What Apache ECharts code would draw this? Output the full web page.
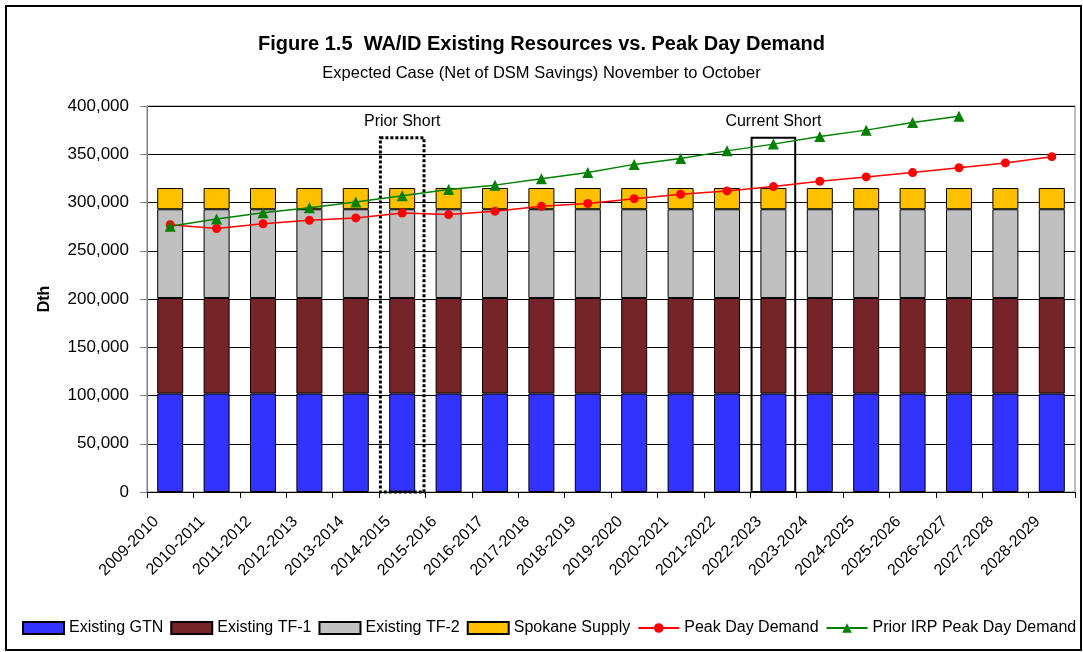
<!DOCTYPE html>
<html lang="en">
<head>
    <meta charset="UTF-8">
    <title>WA/ID Existing Resources vs. Peak Day Demand</title>
    <script src="https://cdn.jsdelivr.net/npm/echarts@6/dist/echarts.min.js"></script>
    <style>
        html, body {
            margin: 0;
            padding: 0;
            background: #fff;
        }
        #chart {
            width: 1083px;
            height: 652px;
        }
    </style>
</head>
<body>
<div id="chart"></div>
<script>
/*
 * data
 */
var years = ['2009-2010', '2010-2011', '2011-2012', '2012-2013', '2013-2014', '2014-2015', '2015-2016',
    '2016-2017', '2017-2018', '2018-2019', '2019-2020', '2020-2021', '2021-2022', '2022-2023',
    '2023-2024', '2024-2025', '2025-2026', '2026-2027', '2027-2028', '2028-2029'];
var existingGTN = [102000, 102000, 102000, 102000, 102000, 102000, 102000, 102000, 102000, 102000,
    102000, 102000, 102000, 102000, 102000, 102000, 102000, 102000, 102000, 102000];
var existingTF1 = [99000, 99000, 99000, 99000, 99000, 99000, 99000, 99000, 99000, 99000,
    99000, 99000, 99000, 99000, 99000, 99000, 99000, 99000, 99000, 99000];
var existingTF2 = [92000, 92000, 92000, 92000, 92000, 92000, 92000, 92000, 92000, 92000,
    92000, 92000, 92000, 92000, 92000, 92000, 92000, 92000, 92000, 92000];
var spokaneSupply = [22000, 22000, 22000, 22000, 22000, 22000, 22000, 22000, 22000, 22000,
    22000, 22000, 22000, 22000, 22000, 22000, 22000, 22000, 22000, 22000];
var peakDayDemand = [277000, 273000, 278000, 281500, 284000, 289000, 287500, 291000, 296000, 299000,
    304000, 308500, 312000, 316500, 322000, 326500, 331000, 336000, 341000, 347500];
var priorIrpDemand = [275500, 283000, 289500, 294500, 300500, 307000, 313500, 318000, 324500, 331000,
    339500, 345500, 353500, 360500, 368500, 375000, 383000, 389500, null, null];
var yTicks = [0, 50000, 100000, 150000, 200000, 250000, 300000, 350000, 400000];

// the two "short" boxes
var shortYears = ['2014-2015', '2022-2023'];
var shortTops = [367000, 367000];
var shortLabels = ['Prior Short', 'Current Short'];
var shortDashed = [true, false];

var font = 'Liberation Sans, Arial, sans-serif';

function fmt(v) {
    return v.toLocaleString('en-US');
}

function barSeries(name, data, color) {
    return {
        name: name,
        type: 'bar',
        stack: 'res',
        data: data,
        barWidth: 26,
        itemStyle: {color: color, borderColor: '#000', borderWidth: 1}
    };
}

function drawShort(params, api) {
    var i = params.dataIndex;
    var base = api.coord([api.value(0), 0]);
    var top = api.coord([api.value(0), api.value(1)]);
    var w = api.size([1, 0])[0] * 0.94;
    return {
        type: 'group',
        children: [{
            type: 'rect',
            shape: {x: base[0] - w / 2, y: top[1], width: w, height: base[1] - top[1]},
            style: {
                fill: null,
                stroke: '#000',
                lineWidth: shortDashed[i] ? 3 : 2,
                lineDash: shortDashed[i] ? [3, 2] : null
            }
        }, {
            type: 'text',
            x: base[0],
            y: top[1] - 16,
            style: {
                text: shortLabels[i],
                align: 'center',
                verticalAlign: 'middle',
                fontFamily: font,
                fontSize: 16,
                fill: '#000'
            }
        }]
    };
}

var myChart = echarts.init(document.getElementById('chart'));
var option = {
    backgroundColor: '#fff',
    animation: false,
    textStyle: {fontFamily: font},
    title: [{
        text: 'Figure 1.5  WA/ID Existing Resources vs. Peak Day Demand',
        left: 'center',
        top: 29,
        textStyle: {fontFamily: font, fontSize: 20, fontWeight: 'bold', color: '#000'}
    }, {
        text: 'Expected Case (Net of DSM Savings) November to October',
        left: 'center',
        top: 60,
        textStyle: {fontFamily: font, fontSize: 16.5, fontWeight: 'normal', color: '#000'}
    }],
    graphic: [{
        type: 'rect',
        shape: {x: 6, y: 6, width: 1075, height: 644},
        style: {fill: null, stroke: '#000', lineWidth: 2},
        silent: true
    }],
    legend: {
        left: 17,
        top: 615,
        itemWidth: 41,
        itemHeight: 12,
        itemGap: 7,
        textStyle: {fontFamily: font, fontSize: 16, color: '#000'},
        data: [
            {name: 'Existing GTN', icon: 'rect'},
            {name: 'Existing TF-1', icon: 'rect'},
            {name: 'Existing TF-2', icon: 'rect'},
            {name: 'Spokane Supply', icon: 'rect'},
            'Peak Day Demand',
            'Prior IRP Peak Day Demand'
        ]
    },
    grid: {
        left: 147,
        right: 8,
        top: 106,
        bottom: 160,
        show: true,
        borderColor: '#808080',
        borderWidth: 1
    },
    xAxis: {
        type: 'category',
        data: years,
        axisLine: {lineStyle: {color: '#000', width: 1}},
        axisTick: {show: true, length: 6, lineStyle: {color: '#000'}},
        axisLabel: {
            rotate: 45,
            margin: 13,
            padding: [0, 20, 0, 0],
            interval: 0,
            fontFamily: font,
            fontSize: 16,
            color: '#000'
        }
    },
    yAxis: {
        type: 'value',
        min: yTicks[0],
        max: yTicks[yTicks.length - 1],
        interval: yTicks[1] - yTicks[0],
        name: 'Dth',
        nameLocation: 'middle',
        nameGap: 94,
        nameTextStyle: {fontFamily: font, fontSize: 16, fontWeight: 'bold', color: '#000'},
        axisLine: {show: true, lineStyle: {color: '#808080'}},
        axisTick: {show: true, inside: false, length: 7, lineStyle: {color: '#808080'}},
        axisLabel: {
            margin: 18,
            fontFamily: font,
            fontSize: 17,
            color: '#000',
            formatter: fmt
        },
        splitLine: {lineStyle: {color: '#000', width: 1}}
    },
    series: [
        barSeries('Existing GTN', existingGTN, '#3333FF'),
        barSeries('Existing TF-1', existingTF1, '#772429'),
        barSeries('Existing TF-2', existingTF2, '#C0C0C0'),
        barSeries('Spokane Supply', spokaneSupply, '#FFC000'),
        {
            name: 'short',
            type: 'custom',
            renderItem: drawShort,
            data: shortYears.map(function (y, i) {
                return [y, shortTops[i]];
            }),
            z: 3
        },
        {
            name: 'Peak Day Demand',
            type: 'line',
            data: peakDayDemand,
            symbol: 'circle',
            symbolSize: 9,
            color: '#FF0000',
            lineStyle: {color: '#FF0000', width: 1.5},
            itemStyle: {color: '#FF0000'},
            z: 4
        },
        {
            name: 'Prior IRP Peak Day Demand',
            type: 'line',
            data: priorIrpDemand,
            symbol: 'triangle',
            symbolSize: 11,
            color: '#008000',
            lineStyle: {color: '#008000', width: 1.5},
            itemStyle: {color: '#008000'},
            z: 4
        }
    ]
};
myChart.setOption(option);
</script>
</body>
</html>
